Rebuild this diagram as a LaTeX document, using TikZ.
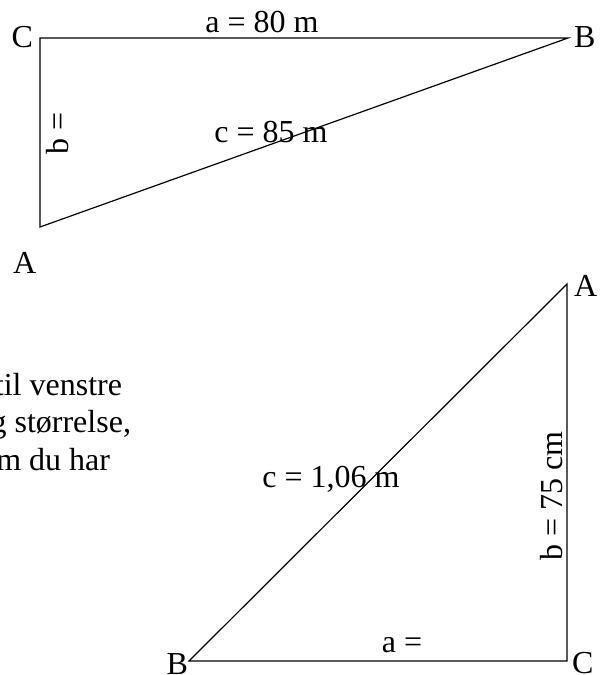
\documentclass[tikz,border=0pt]{standalone}
\usepackage{fontspec}
\setmainfont{Liberation Serif}
\usetikzlibrary{positioning}
\tikzset{
  side/.style={draw=black, line width=1.2pt, line join=miter},
  lbl/.style={inner sep=0pt, outer sep=0pt, font=\fontsize{32}{38}\selectfont},
  vtx/.style={lbl},
  sidelbl/.style={lbl, anchor=base},
}
\begin{document}
\begin{tikzpicture}[x=1pt, y=-1pt]
  \useasboundingbox (0,0) rectangle (604,675);
  % upper triangle
  \coordinate (c1) at (40,38);
  \coordinate (b1) at (568,38);
  \coordinate (a1) at (40,227);
  \draw[side] (c1) -- (b1) -- (a1) -- cycle;
  \node[vtx, anchor=base east] (lc1) at (33,47) {C};
  \node[vtx, anchor=base west] (lb1) at (574,47) {B};
  \node[vtx, anchor=base west] (la1) at (13,273) {A};
  \node[sidelbl] (sa1) at (262,32) {a = 80 m};
  \node[sidelbl, rotate=90] (sb1) at (68,133.5) {b =};
  \node[sidelbl] (sc1) at (271,142) {c = 85 m};
  % text cut at the left edge
  \node[lbl, anchor=base east] (txt1) at (122,395) {til venstre};
  \node[lbl, anchor=base east] (txt2) at (131,432) {g størrelse,};
  \node[lbl, anchor=base east] (txt3) at (110,470) {m du har};
  % lower triangle
  \coordinate (a2) at (567,284);
  \coordinate (b2) at (189,661);
  \coordinate (c2) at (567,661);
  \draw[side] (a2) -- (b2) -- (c2) -- cycle;
  \node[vtx, anchor=base west] (la2) at (574,296) {A};
  \node[vtx, anchor=base east] (lb2) at (188,674) {B};
  \node[vtx, anchor=base west] (lc2) at (572,673) {C};
  \node[sidelbl] (sa2) at (402,652) {a =};
  \node[sidelbl, rotate=90] (sb2) at (562,496) {b = 75 cm};
  \node[sidelbl] (sc2) at (331,487) {c = 1,06 m};
\end{tikzpicture}
\end{document}
